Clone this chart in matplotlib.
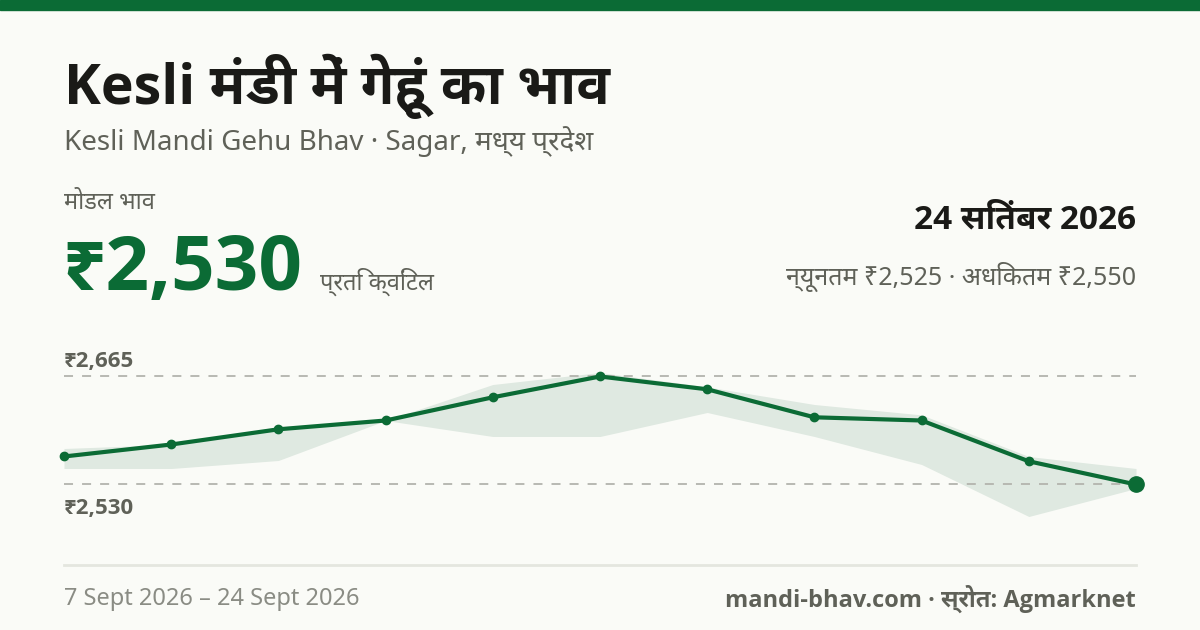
import matplotlib
matplotlib.use("Agg")
import matplotlib.pyplot as plt
from matplotlib import font_manager
from matplotlib.ft2font import FT2Font

# ---------------- data ----------------
points = list(range(11))
modal_price = [2565, 2580, 2599, 2610, 2639, 2665, 2649, 2614, 2610, 2559, 2530]
min_price = [2550, 2550, 2560, 2610, 2590, 2590, 2620, 2590, 2555, 2490, 2525]
max_price = [2575, 2580, 2602, 2610, 2655, 2670, 2652, 2630, 2617, 2565, 2550]
ref_high = 2665
ref_low = 2530
ref_labels = ["₹2,665", "₹2,530"]

title = "Kesli मंडी में गेहूं का भाव"
subtitle = "Kesli Mandi Gehu Bhav · Sagar, मध्य प्रदेश"
modal_label = "मोडल भाव"
modal_value = "₹2,530"
unit_label = "प्रति क्विंटल"
date_label = "24 सितंबर 2026"
range_label = "न्यूनतम ₹2,525 · अधिकतम ₹2,550"
period_label = "7 Sept 2026 – 24 Sept 2026"
source_label = "mandi-bhav.com · स्रोत: Agmarknet"

# ---------------- fonts ----------------
def find_devanagari():
    found = []
    for path in font_manager.findSystemFonts():
        try:
            f = FT2Font(path)
            if f.get_char_index(0x0915) and f.get_char_index(0x0905):
                found.append(font_manager.FontProperties(fname=path).get_name())
        except Exception:
            pass
    for n in found:
        if "Devanagari" in n:
            return n
    return found[0] if found else None

def has_bold(name):
    for e in font_manager.fontManager.ttflist:
        w = e.weight if isinstance(e.weight, int) else 400
        if e.name == name and (w >= 600 or "bold" in str(e.weight).lower()):
            return True
    return False

deva = find_devanagari()
bold_latin = next((n for n in ["Open Sans", "Noto Sans", "Roboto", "Lato", "DejaVu Sans"]
                   if has_bold(n)), "DejaVu Sans")
REG = ["Noto Sans"] + ([deva] if deva else []) + ["DejaVu Sans"]
BOLD = [bold_latin] + ([deva] if deva else []) + ["DejaVu Sans"]
plt.rcParams["font.family"] = REG

BG = "#fafbf7"
GREEN = "#0b6b35"
DARK = "#1a1a17"
GRAY = "#5f6158"
LGRAY = "#8a8c84"

W, H = 1200, 630
fig = plt.figure(figsize=(12, 6.3), dpi=100, facecolor=BG)

def fx(x):
    return x / W

def fy(y):
    return 1 - y / H

# top bar
fig.patches.append(plt.Rectangle((0, fy(10)), 1, 10 / H, transform=fig.transFigure,
                                 color=GREEN, zorder=0))

fig.text(fx(64), fy(86), title, fontsize=40, fontweight="bold", family=BOLD, color=DARK,
         va="center", ha="left")
fig.text(fx(64), fy(142), subtitle, fontsize=20, color=GRAY, va="center", ha="left")
fig.text(fx(64), fy(203), modal_label, fontsize=17, color=GRAY, va="center", ha="left")
fig.text(fx(62), fy(290), modal_value, fontsize=55, fontweight="bold", family=BOLD, color=GREEN,
         va="baseline", ha="left")
fig.text(fx(320), fy(290), unit_label, fontsize=17, color=GRAY, va="baseline", ha="left")
fig.text(fx(1136), fy(220), date_label, fontsize=24, fontweight="bold", family=BOLD, color=DARK,
         va="center", ha="right")
fig.text(fx(1136), fy(277), range_label, fontsize=18, color=GRAY, va="center", ha="right")

# footer
fig.add_artist(plt.Line2D([fx(64), fx(1136)], [fy(565), fy(565)], transform=fig.transFigure,
                          color="#e4e6df", lw=2))
fig.text(fx(64), fy(599), period_label, fontsize=17, color=LGRAY, va="center", ha="left")
fig.text(fx(1136), fy(599), source_label, fontsize=17, fontweight="bold", family=BOLD, color=GRAY,
         va="center", ha="right")

# ---------------- chart ----------------
top_px, bot_px = 340, 540
ax = fig.add_axes([fx(64), fy(bot_px), fx(1136) - fx(64), (bot_px - top_px) / H])
ax.set_facecolor("none")
ppu = (484.5 - 376.5) / (ref_high - ref_low)
ax.set_xlim(0, 10)
ax.set_ylim(ref_low - (bot_px - 484.5) / ppu, ref_high + (376.5 - top_px) / ppu)
for s in ax.spines.values():
    s.set_visible(False)
ax.set_xticks([])
ax.set_yticks([])

ax.fill_between(points, min_price, max_price, color="#dfe9e1", lw=0, zorder=1)
for v in (ref_high, ref_low):
    ax.axhline(v, color="#b3b4ad", lw=1.3, dashes=(5, 5), zorder=2)
ax.plot(points, modal_price, color=GREEN, lw=3, marker="o", ms=6, zorder=3, clip_on=False)
ax.plot(points[-1:], modal_price[-1:], color=GREEN, marker="o", ms=11, zorder=4, clip_on=False)

ax.text(0, ref_high + 15 / ppu, ref_labels[0], fontsize=16, fontweight="bold", family=BOLD,
        color=GRAY, va="center", ha="left")
ax.text(0, ref_low - 24 / ppu, ref_labels[1], fontsize=16, fontweight="bold", family=BOLD,
        color=GRAY, va="center", ha="left")

fig.savefig("out.png", dpi=100, facecolor=BG)
